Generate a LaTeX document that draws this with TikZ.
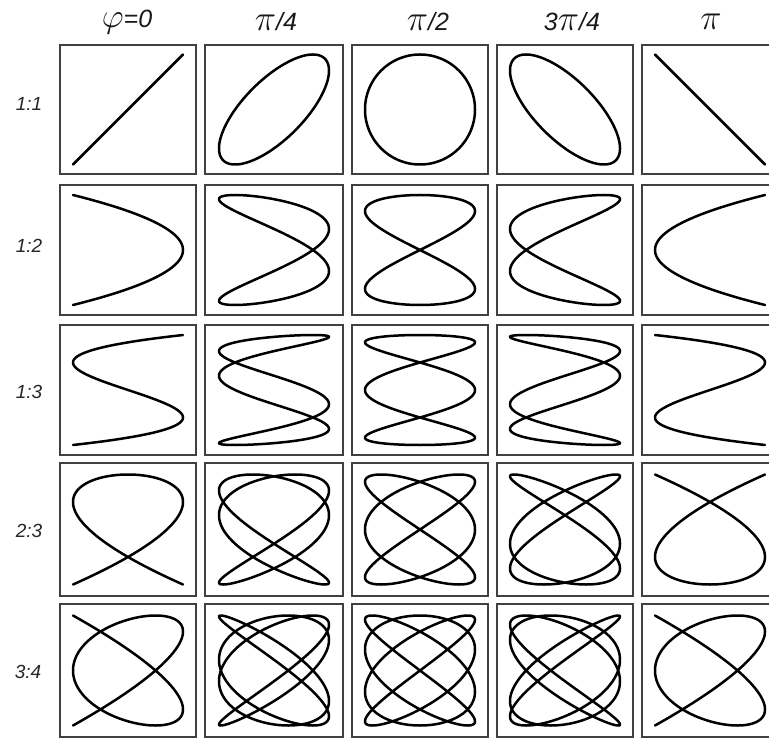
\documentclass[tikz,border=0pt]{standalone}
\usepackage{fix-cm}
\usepackage{fontspec}
\setmainfont{Liberation Sans}
\newcommand{\liss}[7]{% row col p q sx sy phase(deg)
  \begin{scope}[shift={(b#1#2.center)}]
    \draw[curve] plot[domain=0:360, samples=721, variable=\t]
      ({55*(#5)*cos((#3)*\t+(#7))}, {-55*(#6)*cos((#4)*\t)});
  \end{scope}}
\newcommand{\bigpi}{{\fontsize{36}{38}\selectfont$\pi$}}
\newcommand{\bigphi}{{\fontsize{34}{36}\selectfont$\varphi$}}
\begin{document}
\begin{tikzpicture}[x=1pt,y=-1pt,
  cell/.style={draw=black!75, line width=1.2pt, inner sep=0pt, outer sep=0pt},
  curve/.style={line width=2.5pt, line join=round, line cap=round, black},
  rowlab/.style={font=\fontsize{19}{21}\selectfont\itshape, inner sep=0pt, text=black!85},
  collab/.style={font=\fontsize{25}{27}\selectfont\itshape, inner sep=0pt, text=black!90}]
\useasboundingbox (0,0) rectangle (769,738);
\clip (0,0) rectangle (769,738);
\fill[white] (0,0) rectangle (769,738);
% boxes
\foreach \r/\cy/\h in {1/109.5/129, 2/250/130, 3/390/130, 4/529.5/133, 5/670.5/133}
  \foreach \c/\cx/\w in {1/128/136, 2/274/138, 3/420/136, 4/565/136, 5/710/136}
    \node[cell, minimum width=\w pt, minimum height=\h pt] (b\r\c) at (\cx,\cy) {};
% column headers
\node[collab] (h1) at (127,22) {\bigphi=0};
\node[collab] (h2) at (276,22) {\bigpi/4};
\node[collab] (h3) at (428,22) {\bigpi/2};
\node[collab] (h4) at (572,22) {3\bigpi/4};
\node[collab] (h5) at (711,22) {\bigpi};
% row labels
\node[rowlab] (l1) at (29,104) {1:1};
\node[rowlab] (l2) at (29,246) {1:2};
\node[rowlab] (l3) at (29,392) {1:3};
\node[rowlab] (l4) at (29,531) {2:3};
\node[rowlab] (l5) at (28,672) {3:4};
% curves: 1:1
\liss{1}{1}{1}{1}{1}{1}{0}
\liss{1}{2}{1}{1}{1}{1}{45}
\liss{1}{3}{1}{1}{1}{1}{90}
\liss{1}{4}{1}{1}{1}{1}{135}
\liss{1}{5}{1}{1}{1}{1}{180}
% 1:2
\liss{2}{1}{2}{1}{-1}{1}{0}
\liss{2}{2}{2}{1}{-1}{1}{45}
\liss{2}{3}{2}{1}{-1}{1}{90}
\liss{2}{4}{2}{1}{-1}{1}{135}
\liss{2}{5}{2}{1}{-1}{1}{180}
% 1:3
\liss{3}{1}{3}{1}{1}{1}{0}
\liss{3}{2}{3}{1}{1}{1}{45}
\liss{3}{3}{3}{1}{1}{1}{90}
\liss{3}{4}{3}{1}{1}{1}{135}
\liss{3}{5}{3}{1}{1}{1}{180}
% 2:3
\liss{4}{1}{3}{2}{1}{-1}{0}
\liss{4}{2}{3}{2}{1}{-1}{22.5}
\liss{4}{3}{3}{2}{1}{-1}{45}
\liss{4}{4}{3}{2}{1}{-1}{67.5}
\liss{4}{5}{3}{2}{1}{-1}{90}
% 3:4
\liss{5}{1}{4}{3}{-1}{1}{0}
\liss{5}{2}{4}{3}{-1}{1}{15}
\liss{5}{3}{4}{3}{-1}{1}{30}
\liss{5}{4}{4}{3}{-1}{1}{45}
\liss{5}{5}{4}{3}{-1}{1}{0}
\end{tikzpicture}
\end{document}
